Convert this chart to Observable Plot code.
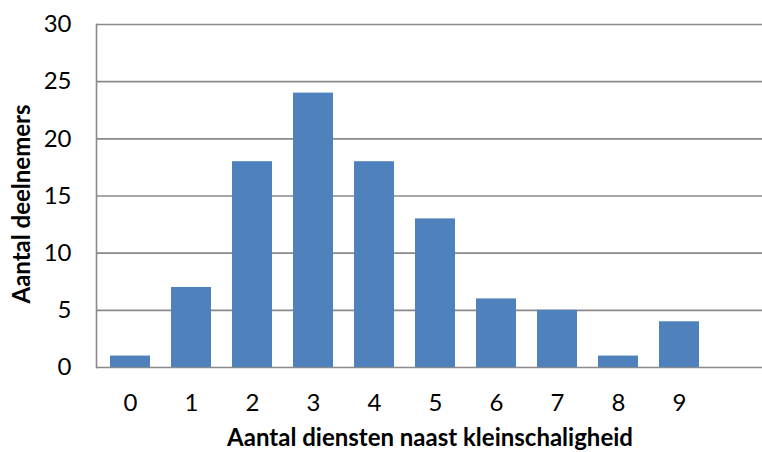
<!DOCTYPE html>
<html>
<head>
<meta charset="utf-8">
<script src="https://cdn.jsdelivr.net/npm/d3@7"></script>
<script src="https://cdn.jsdelivr.net/npm/@observablehq/plot@0.6"></script>
<style>
  html, body { margin: 0; padding: 0; background: #fff; overflow: hidden; }
  #chart svg { overflow: hidden; }
</style>
</head>
<body>
<div id="chart"></div>
<script>
const categories = ["0", "1", "2", "3", "4", "5", "6", "7", "8", "9"];
const values = [1, 7, 18, 24, 18, 13, 6, 5, 1, 4];
const yTicks = [0, 5, 10, 15, 20, 25, 30];
const xTitle = "Aantal diensten naast kleinschaligheid";
const yTitle = "Aantal deelnemers";

const data = categories.map((c, i) => ({cat: c, n: values[i]}));
const font = "Lato, 'Open Sans', sans-serif";

const chart = Plot.plot({
  width: 762,
  height: 452,
  marginLeft: 96,
  marginRight: -11,
  marginTop: 24,
  marginBottom: 85,
  style: {fontFamily: font, fontSize: "24px", color: "#000", background: "#fff"},
  x: {domain: [...categories, ""], paddingInner: 0.35, paddingOuter: 0.175, align: 0.5},
  y: {domain: [0, 30]},
  marks: [
    Plot.ruleY(yTicks, {stroke: "#8a8a8a", strokeWidth: 1.6}),
    Plot.barY(data, {x: "cat", y: "n", fill: "#4f81bd"}),
    Plot.frame({anchor: "left", stroke: "#8a8a8a", strokeWidth: 1.6}),
    Plot.axisY(yTicks, {tickSize: 0, tickPadding: 25, label: null, fontSize: 24}),
    Plot.axisX({tickSize: 0, tickPadding: 26, label: null, fontSize: 24}),
    Plot.text([yTitle], {frameAnchor: "left", textAnchor: "middle", rotate: -90, dx: -74, dy: 8, fontWeight: "bold", fontSize: 24, text: d => d}),
    Plot.text([xTitle], {frameAnchor: "bottom", dy: 78, dx: -5, fontWeight: "bold", fontSize: 24, text: d => d})
  ]
});
document.getElementById("chart").appendChild(chart);
</script>
</body>
</html>
